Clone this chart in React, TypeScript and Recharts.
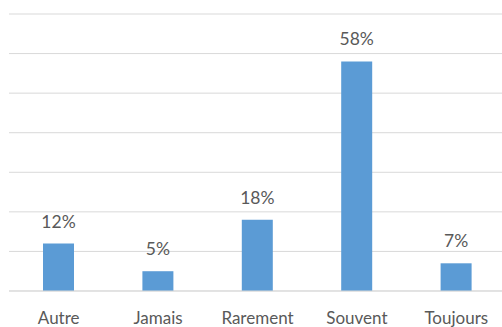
import { BarChart, Bar, XAxis, YAxis, CartesianGrid, LabelList } from 'recharts'

const categories = ['Autre', 'Jamais', 'Rarement', 'Souvent', 'Toujours']
const shares = [12, 5, 18, 58, 7]
const yTicks = [0, 10, 20, 30, 40, 50, 60, 70]

const data = categories.map((name, i) => ({ name, value: shares[i] }))

const FONT = 'Lato, "Open Sans", sans-serif'
const TEXT = '#595959'

export default function App() {
  return (
    <div
      style={{
        position: 'absolute',
        left: 0,
        top: 0,
        width: 502,
        height: 327,
        overflow: 'hidden',
        background: '#fff',
        fontFamily: FONT,
      }}
    >
      <BarChart width={506} height={327} data={data} margin={{ top: 14, right: 0, bottom: 0, left: 9 }}>
        <CartesianGrid vertical={false} stroke="#d9d9d9" />
        <XAxis
          dataKey="name"
          height={36}
          interval={0}
          axisLine={{ stroke: '#d9d9d9' }}
          tickLine={false}
          tickMargin={15}
          tick={{ fill: TEXT, fontSize: 17, fontFamily: FONT }}
        />
        <YAxis hide domain={[0, 70]} ticks={yTicks} />
        <Bar dataKey="value" fill="#5b9bd5" barSize={31} isAnimationActive={false}>
          <LabelList
            dataKey="value"
            position="top"
            offset={16}
            formatter={(v: number) => `${v}%`}
            style={{ fill: TEXT, fontSize: 17.5, fontFamily: FONT }}
          />
        </Bar>
      </BarChart>
    </div>
  )
}
